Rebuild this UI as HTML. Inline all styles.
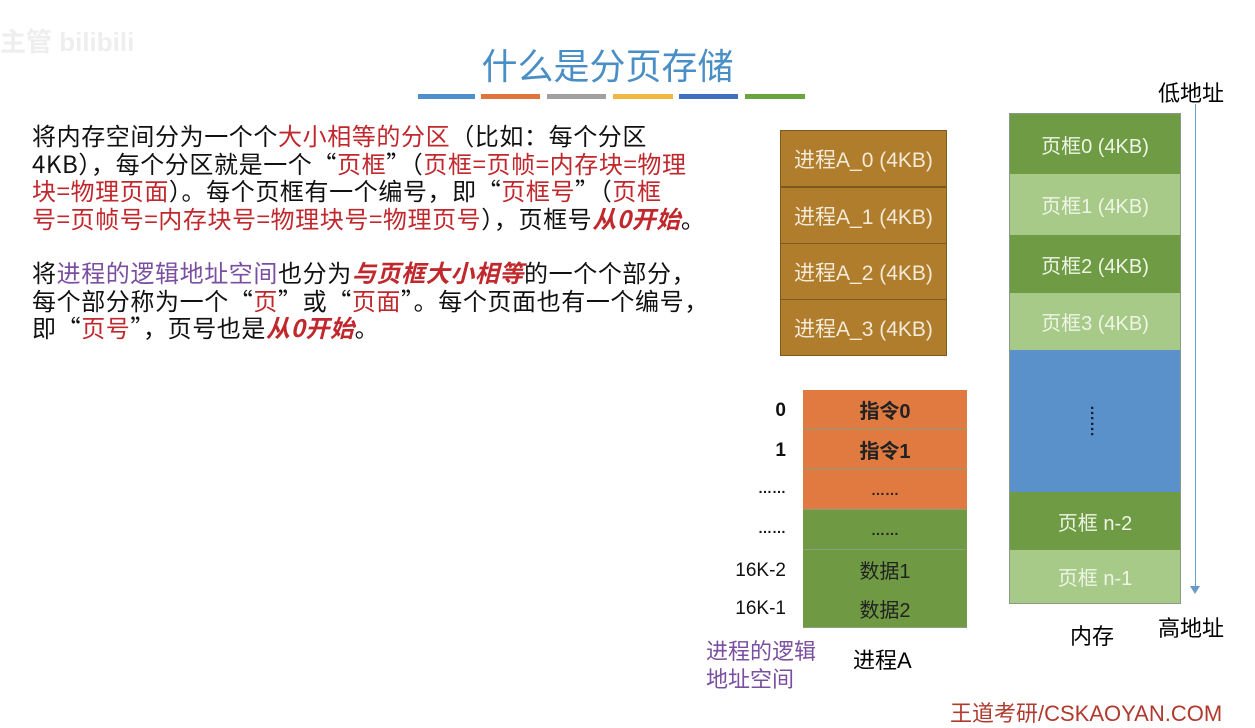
<!DOCTYPE html>
<html><head><meta charset="utf-8"><style>
body{margin:0;width:1255px;height:727px;background:#fff;position:relative;overflow:hidden;font-family:"Liberation Sans","Noto Sans CJK SC",sans-serif;}
.a{position:absolute;}
.t{font-family:"Noto Sans CJK SC",sans-serif;font-size:24px;letter-spacing:0.6px;line-height:27.5px;color:#111;left:32px;width:720px;white-space:nowrap;}
.r{color:#c0282d}.ri{color:#c0282d;font-style:italic;font-weight:bold}.p{color:#7a4fa0}
.box{position:absolute;box-sizing:border-box;display:flex;align-items:center;justify-content:center;font-size:19px;}
.pa{background:#b07d2c;color:#f3ead8;border:1px solid #7a5a20;left:780px;width:167px;height:57px;font-size:21px;}
.mem{color:#eef5e6;left:1010px;width:170px;font-size:20px;}
.dg{background:#6e9b43;}.lg{background:#a7ca88;}
.lt{left:803px;width:164px;height:40px;color:#222;font-weight:bold;border-bottom:1px solid #8aa07a;font-size:20px;}
.or{background:#e07a40;}.gr{background:#6f9a43;}
.lbl{position:absolute;left:700px;width:86px;text-align:right;font-size:19px;font-weight:bold;color:#111;}
</style></head><body>
<div class="a" style="left:0;top:22px;font-size:26px;color:#eee;font-weight:bold">主管 bilibili</div>
<div class="a" style="left:0;width:1215px;top:38px;text-align:center;font-size:36px;color:#4a8ec6">什么是分页存储</div>
<div>
<div class="a" style="left:418px;top:94px;width:57px;height:5px;background:#4f8fcc"></div>
<div class="a" style="left:481px;top:94px;width:59px;height:5px;background:#e0743a"></div>
<div class="a" style="left:547px;top:94px;width:59px;height:5px;background:#a0a0a0"></div>
<div class="a" style="left:613px;top:94px;width:60px;height:5px;background:#f0b840"></div>
<div class="a" style="left:679px;top:94px;width:59px;height:5px;background:#3f6fbf"></div>
<div class="a" style="left:745px;top:94px;width:60px;height:5px;background:#6aa43e"></div>
</div>
<div class="a t" style="top:121px">将内存空间分为一个个<span class="r">大小相等的分区</span>（比如：每个分区<br>4KB），每个分区就是一个“<span class="r">页框</span>”（<span class="r">页框=页帧=内存块=物理<br>块=物理页面</span>）。每个页框有一个编号，即“<span class="r">页框号</span>”（<span class="r">页框<br>号=页帧号=内存块号=物理块号=物理页号</span>），页框号<span class="ri">从0开始</span>。</div>
<div class="a t" style="top:258px">将<span class="p">进程的逻辑地址空间</span>也分为<span class="ri">与页框大小相等</span>的一个个部分，<br>每个部分称为一个“<span class="r">页</span>”或“<span class="r">页面</span>”。每个页面也有一个编号，<br>即“<span class="r">页号</span>”，页号也是<span class="ri">从0开始</span>。</div>

<div class="box pa" style="top:130px">进程A_0 (4KB)</div>
<div class="box pa" style="top:187px">进程A_1 (4KB)</div>
<div class="box pa" style="top:243px">进程A_2 (4KB)</div>
<div class="box pa" style="top:299px">进程A_3 (4KB)</div>

<div class="a" style="left:1009px;top:113px;width:172px;height:491px;border:1px solid #8a9a8a;box-sizing:border-box"></div>
<div class="box mem dg" style="top:114px;height:60px">页框0 (4KB)</div>
<div class="box mem lg" style="top:174px;height:61px">页框1 (4KB)</div>
<div class="box mem dg" style="top:235px;height:58px">页框2 (4KB)</div>
<div class="box mem lg" style="top:293px;height:57px">页框3 (4KB)</div>
<div class="box mem" style="top:350px;height:142px;background:#5a91cb;color:#123;font-weight:bold;writing-mode:vertical-rl;font-size:16px">……</div>
<div class="box mem dg" style="top:492px;height:58px">页框 n-2</div>
<div class="box mem lg" style="top:550px;height:53px">页框 n-1</div>

<div class="a" style="left:1195px;top:104px;width:1px;height:484px;background:#6a9ac8"></div>
<div class="a" style="left:1190px;top:586px;width:0;height:0;border-left:5px solid transparent;border-right:5px solid transparent;border-top:8px solid #6a9ac8"></div>
<div class="a" style="left:1158px;top:76px;font-size:22px">低地址</div>
<div class="a" style="left:1158px;top:611px;font-size:22px">高地址</div>
<div class="a" style="left:1070px;top:619px;font-size:22px">内存</div>

<div class="box lt or" style="top:390px">指令0</div>
<div class="box lt or" style="top:430px">指令1</div>
<div class="box lt or" style="top:470px;font-size:14px">……</div>
<div class="box lt gr" style="top:510px;font-size:14px">……</div>
<div class="box lt gr" style="top:550px;font-weight:normal">数据1</div>
<div class="box lt gr" style="top:589px;height:39px;font-weight:normal">数据2</div>
<div class="lbl" style="top:400px">0</div>
<div class="lbl" style="top:440px">1</div>
<div class="lbl" style="top:480px;font-size:14px">……</div>
<div class="lbl" style="top:520px;font-size:14px">……</div>
<div class="lbl" style="top:560px;font-weight:normal">16K-2</div>
<div class="lbl" style="top:598px;font-weight:normal">16K-1</div>
<div class="a" style="left:706px;top:638px;font-size:22px;line-height:28px;color:#7a4fa0">进程的逻辑<br>地址空间</div>
<div class="a" style="left:853px;top:643px;font-size:22px">进程A</div>
<div class="a" style="left:950px;top:696px;font-size:22px;color:#b03a2e">王道考研/CSKAOYAN.COM</div>
</body></html>
